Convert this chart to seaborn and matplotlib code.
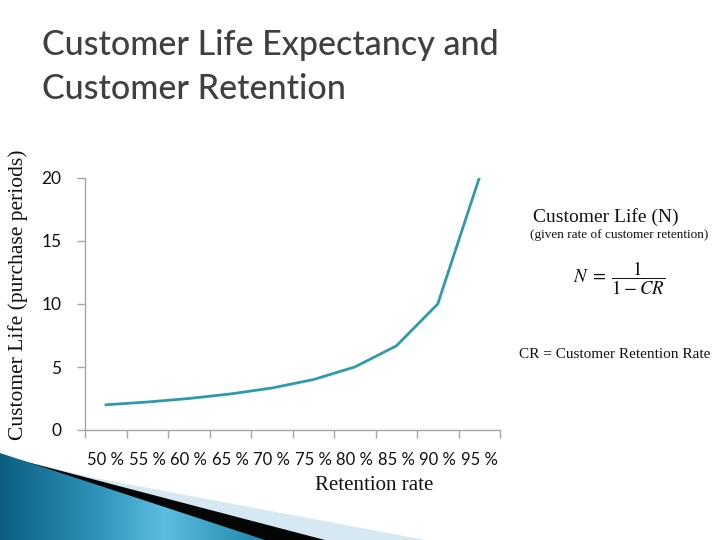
import numpy as np
import matplotlib
matplotlib.use("Agg")
import matplotlib.pyplot as plt
import seaborn as sns
from matplotlib.patches import Polygon
from matplotlib.colors import LinearSegmentedColormap

# values
retention_labels = ["50 %", "55 %", "60 %", "65 %", "70 %",
                    "75 %", "80 %", "85 %", "90 %", "95 %"]
customer_life = [2.0, 2.22, 2.5, 2.86, 3.33, 4.0, 5.0, 6.67, 10.0, 20.0]
y_ticks = [0, 5, 10, 15, 20]

sns.set_theme(style="white")
plt.rcParams["font.family"] = ["Lato", "DejaVu Sans"]
plt.rcParams["mathtext.fontset"] = "stix"

W, H = 720, 540
fig = plt.figure(figsize=(7.2, 5.4), dpi=100)
fig.patch.set_facecolor("white")

# bottom-left decoration (slide theme swoosh)
deco = fig.add_axes([0, 0, 1, 1], zorder=0)
deco.set_xlim(0, W)
deco.set_ylim(H, 0)
deco.axis("off")

light = Polygon([(0, 455), (95, 478), (425, 540), (0, 540)], closed=True,
                facecolor="#d6e8f1", edgecolor="none")
deco.add_patch(light)
dark = Polygon([(0, 455), (50, 468), (325, 540), (0, 540)], closed=True,
               facecolor="#050505", edgecolor="none")
deco.add_patch(dark)
blue = Polygon([(0, 453), (265, 540), (0, 540)], closed=True,
               facecolor="none", edgecolor="none")
deco.add_patch(blue)
blue_cmap = LinearSegmentedColormap.from_list(
    "swoosh", [(0.0, "#0c5f80"), (0.35, "#2c91b8"), (0.62, "#5bbde0"), (1.0, "#1f86aa")])
grad = np.linspace(0, 1, 256).reshape(1, -1)
img = deco.imshow(grad, extent=[0, 265, 540, 453], cmap=blue_cmap, aspect="auto", zorder=3)
img.set_clip_path(blue)

# main chart
ax = fig.add_axes([85 / W, 1 - 430 / H, 415 / W, 252 / H], zorder=1)
ax.patch.set_alpha(0)
sns.lineplot(x=retention_labels, y=customer_life, ax=ax, sort=False,
             color="#2e9bad", linewidth=2)

ax.set_xlim(-0.5, len(retention_labels) - 0.5)
ax.set_ylim(0, 20)
ax.set_xticks(np.arange(-0.5, len(retention_labels), 1.0), labels=[""] * (len(retention_labels) + 1))
ax.set_xticks(range(len(retention_labels)), labels=retention_labels, minor=True)
ax.set_yticks(y_ticks, labels=[str(v) for v in y_ticks])

for side in ["top", "right"]:
    ax.spines[side].set_visible(False)
for side in ["left", "bottom"]:
    ax.spines[side].set_color("#a6a6a6")
    ax.spines[side].set_linewidth(1)

ax.tick_params(axis="x", which="major", bottom=True, length=6, width=1, color="#a6a6a6")
ax.tick_params(axis="x", which="minor", bottom=True, length=0, pad=16,
               labelsize=12, labelcolor="#111111")
ax.tick_params(axis="y", which="major", left=True, length=6, width=1, color="#a6a6a6",
               pad=11, labelsize=12.5, labelcolor="#111111")
ax.set_xlabel("")
ax.set_ylabel("")

serif = ["Liberation Serif", "DejaVu Serif"]
fig.text(18 / W, 1 - 295 / H, "Customer Life (purchase periods)", rotation=90,
         ha="center", va="center", fontsize=15.5, family=serif, color="#111111")
fig.text(374 / W, 1 - 486 / H, "Retention rate", ha="center", va="center",
         fontsize=15, family=serif, color="#111111")

# title
title_font = ["Lato", "DejaVu Sans"]
fig.text(42 / W, 1 - 55 / H, "Customer Life Expectancy and", ha="left", va="baseline",
         fontsize=24.5, family=title_font, weight="medium", color="#404040")
fig.text(42 / W, 1 - 99 / H, "Customer Retention", ha="left", va="baseline",
         fontsize=24.5, family=title_font, weight="medium", color="#404040")

# formula note
fig.text(533 / W, 1 - 217 / H, "Customer Life (N)", ha="left", va="center",
         fontsize=14, family=serif, color="#111111")
fig.text(530 / W, 1 - 235 / H, "(given rate of customer retention)", ha="left", va="center",
         fontsize=9.5, family=serif, color="#111111")
fig.text(619 / W, 1 - 278 / H, r"$N\;=\;\dfrac{1}{1-CR}$", ha="center", va="center",
         fontsize=13.5, color="#111111")
fig.text(519 / W, 1 - 355 / H, "CR = Customer Retention Rate", ha="left", va="center",
         fontsize=11, family=serif, color="#111111")

fig.savefig("out.png", dpi=100)
